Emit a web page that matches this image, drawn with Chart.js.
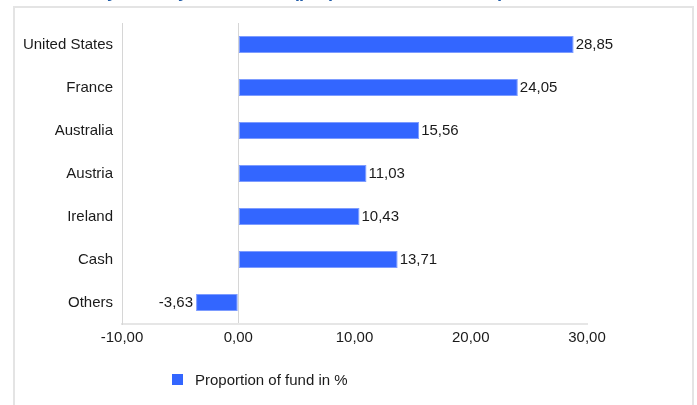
<!DOCTYPE html>
<html>
<head>
<meta charset="utf-8">
<script src="https://cdn.jsdelivr.net/npm/chart.js@4"></script>
<style>
  html, body { margin: 0; padding: 0; background: #ffffff; }
  #wrap { position: relative; width: 697px; height: 405px; overflow: hidden; background: #fff; }
  #frame { position: absolute; left: 13px; top: 6px; width: 677px; height: 430px; border: 2px solid #e4e4e4; box-sizing: content-box; }
  #title { position: absolute; left: 0; top: 0; font: bold 18px "Liberation Sans", Arial, sans-serif; color: #1f5ba8; white-space: nowrap; }
  #c { position: absolute; left: 0; top: 0; }
  #legend { position: absolute; left: 172px; top: 369px; height: 20px; display: flex; align-items: center; font: 15px "Liberation Sans", Arial, sans-serif; color: #1a1a1a; white-space: nowrap; }
  #legend .box { width: 11px; height: 11px; background: #3366ff; margin-right: 12px; }
</style>
</head>
<body>
<div id="wrap">
  <div id="frame"></div>
  <canvas id="c" width="697" height="405"></canvas>
  <div id="title"></div>
  <div id="legend"><span class="box"></span><span id="legendText"></span></div>
</div>
<script>
const titleText = "Allocation by country of domicile (proportion of fund in %)";
const categories = ["United States", "France", "Australia", "Austria", "Ireland", "Cash", "Others"];
const seriesName = "Proportion of fund in %";
const values = [28.85, 24.05, 15.56, 11.03, 10.43, 13.71, -3.63];
const xTickValues = [-10, 0, 10, 20, 30];
const xTickLabels = ["-10,00", "0,00", "10,00", "20,00", "30,00"];

const FONT = '"Liberation Sans", Arial, sans-serif';
const fmt = v => v.toFixed(2).replace('.', ',');

document.getElementById('legendText').textContent = seriesName;

// Title: only its descenders remain visible at the top edge of the picture
(function placeTitle() {
  const t = document.getElementById('title');
  t.textContent = titleText;
  const mc = document.createElement('canvas').getContext('2d');
  mc.font = 'bold 18px ' + FONT;
  const pre = mc.measureText('Allocation b').width;
  const yw = mc.measureText('y').width;
  t.style.left = (112 - pre - yw / 2) + 'px';
  t.style.lineHeight = '18px';
  t.style.top = '-18px';
})();

const valueLabels = {
  id: 'valueLabels',
  afterDatasetsDraw(chart) {
    const ctx = chart.ctx;
    const meta = chart.getDatasetMeta(0);
    ctx.save();
    ctx.font = '15px ' + FONT;
    ctx.fillStyle = '#1a1a1a';
    ctx.textBaseline = 'middle';
    meta.data.forEach((bar, i) => {
      const v = chart.data.datasets[0].data[i];
      if (v >= 0) {
        ctx.textAlign = 'left';
        ctx.fillText(fmt(v), bar.x + 2, bar.y);
      } else {
        ctx.textAlign = 'right';
        ctx.fillText(fmt(v), bar.x - 3, bar.y);
      }
    });
    ctx.restore();
  }
};

new Chart(document.getElementById('c'), {
  type: 'bar',
  data: {
    labels: categories,
    datasets: [{
      label: seriesName,
      data: values,
      backgroundColor: '#3366ff',
      borderColor: '#7d9cff',
      borderWidth: 1,
      borderSkipped: false,
      barPercentage: 0.4,
      categoryPercentage: 1.0
    }]
  },
  options: {
    indexAxis: 'y',
    responsive: false,
    animation: false,
    devicePixelRatio: 1,
    layout: { padding: { left: 0, right: 110, top: 23, bottom: 0 } },
    plugins: {
      legend: { display: false },
      title: { display: false },
      tooltip: { enabled: false }
    },
    scales: {
      x: {
        type: 'linear',
        min: -10,
        max: 30,
        afterBuildTicks: scale => { scale.ticks = xTickValues.map(v => ({ value: v })); },
        afterFit: scale => { scale.height = 81; },
        ticks: {
          padding: 5,
          color: '#1a1a1a',
          font: { family: FONT, size: 15 },
          maxRotation: 0,
          callback: (value, index) => xTickLabels[index]
        },
        grid: {
          drawTicks: false,
          color: ctx => (ctx.tick && ctx.tick.value === 0) ? '#d6d6d6' : 'rgba(0,0,0,0)',
          lineWidth: 1
        },
        border: { display: true, color: '#e6e6e6', width: 2 }
      },
      y: {
        afterFit: scale => { scale.width = 122; },
        ticks: {
          padding: 9,
          color: '#1a1a1a',
          font: { family: FONT, size: 15 }
        },
        grid: { display: false, drawTicks: false },
        border: { display: true, color: '#d6d6d6', width: 1 }
      }
    }
  },
  plugins: [valueLabels]
});
</script>
</body>
</html>
